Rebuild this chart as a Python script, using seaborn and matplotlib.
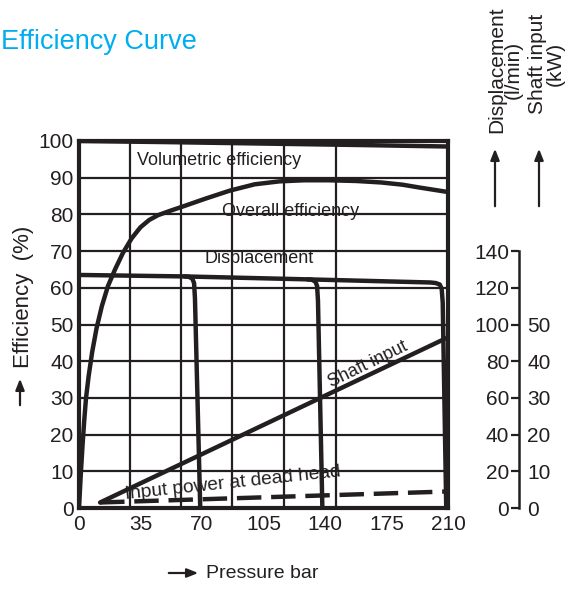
import matplotlib
matplotlib.use("Agg")
import matplotlib.pyplot as plt
import seaborn as sns

# ---- axis scales -------------------------------------------------------
pressure_ticks = [0, 35, 70, 105, 140, 175, 210]
efficiency_ticks = [0, 10, 20, 30, 40, 50, 60, 70, 80, 90, 100]
displacement_ticks = [0, 20, 40, 60, 80, 100, 120, 140]
shaft_ticks = [0, 10, 20, 30, 40, 50]
grid_pressure = [29, 58, 87, 116.5, 146, 175]

# ---- volumetric efficiency (%) ------------------------------------------
vol_pressure = [0, 50, 105, 160, 210]
vol_efficiency = [100, 99.7, 99.3, 98.9, 98.5]

# ---- overall efficiency (%) ---------------------------------------------
overall_pressure = [0, 1, 2, 3, 4, 5.5, 7.5, 10, 13, 16.5, 20.5, 25, 30, 35,
                    40, 45, 52, 60, 72, 86, 100, 114, 128, 142, 158, 172,
                    184, 194, 202, 210]
overall_efficiency = [0, 9, 17, 24, 30, 36, 42.5, 49, 55, 60.5, 65, 69.5,
                      73.5, 76.5, 78.5, 79.8, 81, 82.3, 84.3, 86.5, 88.2, 89,
                      89.3, 89.3, 89.1, 88.7, 88.1, 87.3, 86.7, 86.1]

# ---- displacement (l/min) with relief settings at 70 / 140 / 210 bar -----
disp_main_pressure = [0, 60, 130, 200, 203, 205.3, 206.4, 207, 209]
disp_main_flow = [127, 126.2, 124.6, 122.9, 122.6, 121.8, 119.5, 112, 0]
relief70_pressure = [60, 62.5, 64.5, 65.5, 66, 69]
relief70_flow = [126.2, 126.0, 125.0, 122.5, 114, 0]
relief140_pressure = [130, 132.5, 134.5, 135.5, 136, 138.5]
relief140_flow = [124.6, 124.4, 123.4, 121, 113, 0]

# ---- shaft input (kW) ----------------------------------------------------
shaft_pressure = [12, 210]
shaft_power = [1.5, 46.5]
deadhead_pressure = [12, 210]
deadhead_power = [1.5, 4.5]

INK = "#231f20"
FONT = ["Liberation Sans", "DejaVu Sans"]

sns.set_theme(style="white")
plt.rcParams["font.family"] = FONT
plt.rcParams["axes.edgecolor"] = INK
plt.rcParams["text.color"] = INK
plt.rcParams["xtick.color"] = INK
plt.rcParams["ytick.color"] = INK

W, H = 575, 590
fig = plt.figure(figsize=(W / 100, H / 100), dpi=100)
ax = fig.add_axes([79 / W, 82 / H, 369 / W, 367 / H])


def fp(x, y):
    """pixel position measured from the top-left corner -> figure fraction"""
    return x / W, 1 - y / H


LW = 3.2
ARROW = dict(arrowstyle="-|>,head_length=0.55,head_width=0.22", lw=1.6,
             color=INK)

# efficiency curves on the main axes
sns.lineplot(x=vol_pressure, y=vol_efficiency, ax=ax, color=INK, lw=LW,
             sort=False, estimator=None)
sns.lineplot(x=overall_pressure, y=overall_efficiency, ax=ax, color=INK,
             lw=LW, sort=False, estimator=None)

ax.set_xlim(0, 210)
ax.set_ylim(0, 100)
ax.set_xticks(pressure_ticks)
ax.set_xticks(grid_pressure, minor=True)
ax.set_yticks(efficiency_ticks)
ax.grid(False)
ax.grid(True, which="minor", axis="x", color=INK, lw=1.6)
ax.grid(True, which="major", axis="y", color=INK, lw=1.6)
ax.tick_params(axis="both", which="both", length=0, labelsize=15)
ax.tick_params(axis="x", pad=5)
ax.tick_params(axis="y", pad=4)
ax.set_xlabel("")
ax.set_ylabel("")
for sp in ax.spines.values():
    sp.set_linewidth(3.0)
    sp.set_color(INK)

# displacement scale (l/min): 20 l/min per 10 %
ax_disp = ax.twinx()
for p, q in [(disp_main_pressure, disp_main_flow),
             (relief70_pressure, relief70_flow),
             (relief140_pressure, relief140_flow)]:
    sns.lineplot(x=p, y=q, ax=ax_disp, color=INK, lw=LW, sort=False,
                 estimator=None)
ax_disp.set_ylim(0, 200)
ax_disp.set_xlim(0, 210)
ax_disp.grid(False)
for sp in ax_disp.spines.values():
    sp.set_visible(False)
ax_disp.yaxis.set_ticks_position("left")
ax_disp.spines["left"].set_visible(True)
ax_disp.spines["left"].set_position(("axes", 1.192))
ax_disp.spines["left"].set_bounds(0, 140)
ax_disp.spines["left"].set_linewidth(1.8)
ax_disp.set_yticks(displacement_ticks)
ax_disp.tick_params(axis="y", direction="out", length=6, width=1.6,
                    labelsize=15, pad=1)
ax_disp.set_ylabel("")

# shaft input scale (kW): 10 kW per 10 %
ax_kw = ax.twinx()
sns.lineplot(x=shaft_pressure, y=shaft_power, ax=ax_kw, color=INK, lw=LW,
             sort=False, estimator=None)
sns.lineplot(x=deadhead_pressure, y=deadhead_power, ax=ax_kw, color=INK,
             lw=LW, sort=False, estimator=None, linestyle=(0, (5.5, 2.2)))
ax_kw.set_ylim(0, 100)
ax_kw.set_xlim(0, 210)
ax_kw.grid(False)
for sp in ax_kw.spines.values():
    sp.set_visible(False)
ax_kw.spines["right"].set_position(("axes", 1.192))
ax_kw.set_yticks(shaft_ticks)
ax_kw.tick_params(axis="y", length=0, labelsize=15, pad=6)
ax_kw.set_ylabel("")

# curve names
ax.text(33, 94.6, "Volumetric efficiency", fontsize=13, va="center")
ax.text(81.4, 80.8, "Overall efficiency", fontsize=13, va="center")
ax.text(71.7, 68.1, "Displacement", fontsize=13, va="center")
ax.text(164.5, 39.2, "Shaft input", fontsize=13, ha="center", va="center",
        rotation=26)
ax.text(87.8, 6.8, "Input power at dead head", fontsize=13.8, ha="center",
        va="center", rotation=6)

# title
fig.text(*fp(1, 42), "Efficiency Curve", color="#00AEEF", fontsize=19.5,
         ha="left", va="center")

# axis captions with arrows
fig.text(*fp(24, 297), "Efficiency  (%)", fontsize=16, rotation=90,
         ha="center", va="center")
ax.annotate("", xy=fp(20, 376), xytext=fp(20, 408), xycoords="figure fraction",
            textcoords="figure fraction", arrowprops=ARROW)
fig.text(*fp(206, 574), "Pressure bar", fontsize=14, ha="left", va="center")
ax.annotate("", xy=fp(201, 573), xytext=fp(166, 573),
            xycoords="figure fraction", textcoords="figure fraction",
            arrowprops=ARROW)

fig.text(*fp(505, 70), "Displacement\n(l/min)", fontsize=15, rotation=90,
         ha="center", va="center", multialignment="center", linespacing=0.9)
fig.text(*fp(546, 64), "Shaft input\n(kW)", fontsize=15, rotation=90,
         ha="center", va="center", multialignment="center", linespacing=0.9)
for xa in (495, 539):
    ax.annotate("", xy=fp(xa, 146), xytext=fp(xa, 209),
                xycoords="figure fraction", textcoords="figure fraction",
                arrowprops=ARROW)

fig.savefig("out.png", dpi=100)
